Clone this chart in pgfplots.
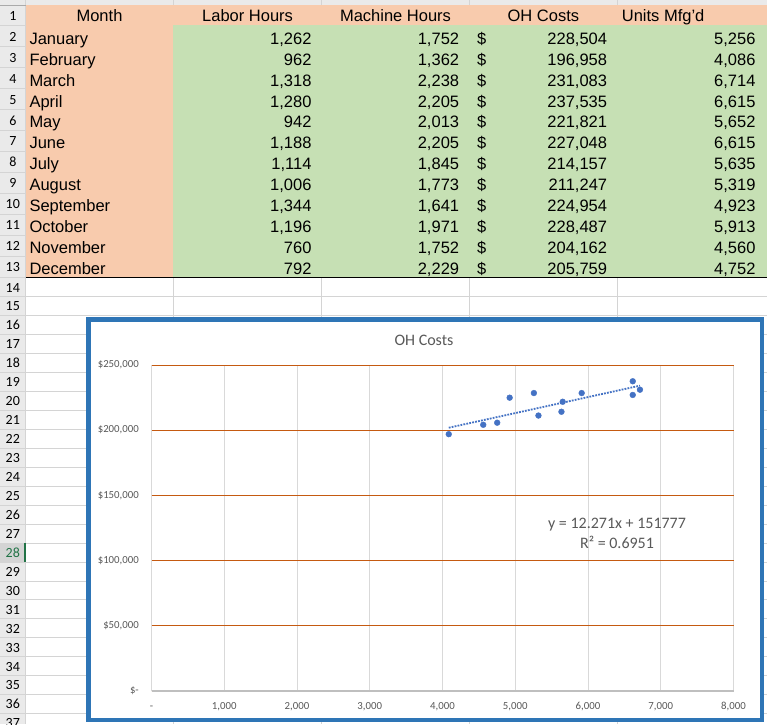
\documentclass[border=0pt]{standalone}
\usepackage{pgfplots}
\pgfplotsset{compat=1.18}
\usepackage{pgfplotstable}
\usepackage{fontspec}
\setmainfont{Liberation Sans}
\newfontfamily\calibri{Carlito}

\definecolor{hdr}{HTML}{F8CBAD}
\definecolor{val}{HTML}{C6E0B4}
\definecolor{gridc}{HTML}{D4D4D4}
\definecolor{rowhd}{HTML}{EAEAEA}
\definecolor{xlblue}{HTML}{2E75B6}
\definecolor{ptblue}{HTML}{4472C4}
\definecolor{orgrid}{HTML}{C55A11}
\definecolor{txtgrey}{HTML}{595959}
\definecolor{vgrid}{HTML}{D9D9D9}
\definecolor{xlgreen}{HTML}{217346}

% units made vs overhead costs
\pgfplotstableread{
units oh
5256 228504
4086 196958
6714 231083
6615 237535
5652 221821
6615 227048
5635 214157
5319 211247
4923 224954
5913 228487
4560 204162
4752 205759
}\ohdata

\begin{document}
\begin{tikzpicture}
\begin{scope}[x=1pt,y=-1pt]
\path[use as bounding box] (0,0) rectangle (767,724);
% sheet background
\fill[rowhd] (0,0) rectangle (767,5);
\fill[rowhd] (0,5) rectangle (25.7,724);
\foreach \k in {0,...,23}
  \draw[gridc, line width=0.8] (0,{277.7+18.95*\k}) -- (767,{277.7+18.95*\k});
\foreach \k in {0,...,12}
  \draw[gridc, line width=0.8] (0,{25+21.06*\k}) -- (25.7,{25+21.06*\k});
\foreach \cx in {25.7,173.3,321.5,469.3,617.7}
  \draw[gridc, line width=0.8] (\cx,0) -- (\cx,724);
\draw[gridc!80!black, line width=0.8] (0,5) -- (767,5);
% selected row 28
\fill[gridc] (0,{277.7+18.95*14}) rectangle (25.7,{277.7+18.95*15});
\fill[xlgreen] (23.9,{277.7+18.95*14}) rectangle (25.7,{277.7+18.95*15});
% cell fills
\fill[hdr] (25.7,5.4) rectangle (767,25);
\fill[hdr] (25.7,25) rectangle (173.3,277.7);
\fill[val] (173.3,25) rectangle (767,277.7);
\draw[black, line width=1.3] (25.7,277.7) -- (767,277.7);

% row numbers
\node[font=\calibri\fontsize{14}{16}\selectfont, anchor=base] at (12.8,20.2) {1};
\foreach \k in {2,...,13}
  \node[font=\calibri\fontsize{14}{16}\selectfont, anchor=base] at (12.8,{41.4+20.9*(\k-2)}) {\k};
\foreach \k in {14,...,37}{
  \pgfmathsetmacro{\yy}{277.7+18.95*(\k-14)+14.3}
  \ifnum\k=28
    \node[font=\calibri\fontsize{14}{16}\selectfont, anchor=base, text=xlgreen] at (12.8,\yy) {\k};
  \else
    \node[font=\calibri\fontsize{14}{16}\selectfont, anchor=base] at (12.8,\yy) {\k};
  \fi}

% header row
\begin{scope}[every node/.style={font=\fontsize{16.5}{19}\selectfont, anchor=base, inner sep=0pt}]
\node at (99.5,21) {Month};
\node at (247.6,21) {Labor Hours};
\node at (395.5,21) {Machine Hours};
\node at (543.4,21) {OH Costs};
\node[anchor=base west] at (621.7,21) {Units Mfg'd};
\foreach \m/\lh/\mh/\oh/\u [count=\i from 0] in {
  January/{1,262}/{1,752}/{228,504}/{5,256},
  February/{962}/{1,362}/{196,958}/{4,086},
  March/{1,318}/{2,238}/{231,083}/{6,714},
  April/{1,280}/{2,205}/{237,535}/{6,615},
  May/{942}/{2,013}/{221,821}/{5,652},
  June/{1,188}/{2,205}/{227,048}/{6,615},
  July/{1,114}/{1,845}/{214,157}/{5,635},
  August/{1,006}/{1,773}/{211,247}/{5,319},
  September/{1,344}/{1,641}/{224,954}/{4,923},
  October/{1,196}/{1,971}/{228,487}/{5,913},
  November/{760}/{1,752}/{204,162}/{4,560},
  December/{792}/{2,229}/{205,759}/{4,752}}{
  \pgfmathsetmacro{\bl}{44.3+20.9*\i}
  \node[anchor=base west] at (29.3,\bl) {\m};
  \node[anchor=base east] at (311.7,\bl) {\lh};
  \node[anchor=base east] at (459.3,\bl) {\mh};
  \node[anchor=base west] at (477,\bl) {\$};
  \node[anchor=base east] at (607.3,\bl) {\oh};
  \node[anchor=base east] at (755.7,\bl) {\u};
}
\end{scope}

% chart frame
\draw[xlblue, line width=4.5, fill=white] (88.25,319.25) rectangle (761.75,719.75);
\node[font=\calibri\fontsize{16}{19}\selectfont, text=txtgrey] at (424,340) {OH Costs};
\end{scope}

\begin{axis}[
  at={(151.5pt,-691pt)}, anchor=south west,
  scale only axis, width=582pt, height=326pt,
  xmin=0, xmax=8000, ymin=0, ymax=250000,
  axis x line*=bottom, axis y line*=left,
  x axis line style={draw=gridc!90!black, line width=1.1pt, -},
  y axis line style={draw=none},
  major tick length=0pt,
  xtick={0,1000,...,8000},
  xticklabels={-,{1,000},{2,000},{3,000},{4,000},{5,000},{6,000},{7,000},{8,000}},
  ytick={0,50000,...,250000},
  yticklabels={\$-,{\$50,000},{\$100,000},{\$150,000},{\$200,000},{\$250,000}},
  scaled ticks=false,
  xmajorgrids, ymajorgrids,
  x grid style={vgrid, line width=0.8pt},
  y grid style={orgrid, line width=1pt},
  xticklabel style={font=\calibri\fontsize{10.8}{12}\selectfont, text=txtgrey,
    inner sep=0pt, text height=7pt, text depth=2pt, anchor=north, yshift=-11.5pt},
  yticklabel style={font=\calibri\fontsize{10.8}{12}\selectfont, text=txtgrey,
    inner sep=0pt, text height=7pt, text depth=1.5pt, anchor=east, xshift=-12.5pt},
  clip=false,
]
\addplot[ptblue, line width=1.8pt, dash pattern=on 1.8pt off 1.2pt]
  coordinates {(4086,201916) (6714,234165)};
\addplot[only marks, mark=*, mark size=2.9pt, ptblue] table[x=units, y=oh] {\ohdata};
\node[align=center, font=\calibri\fontsize{16}{20}\selectfont, text=txtgrey]
  at (axis cs:6399,121200) {y = 12.271x + 151777\\R² = 0.6951};
\end{axis}
\end{tikzpicture}
\end{document}
